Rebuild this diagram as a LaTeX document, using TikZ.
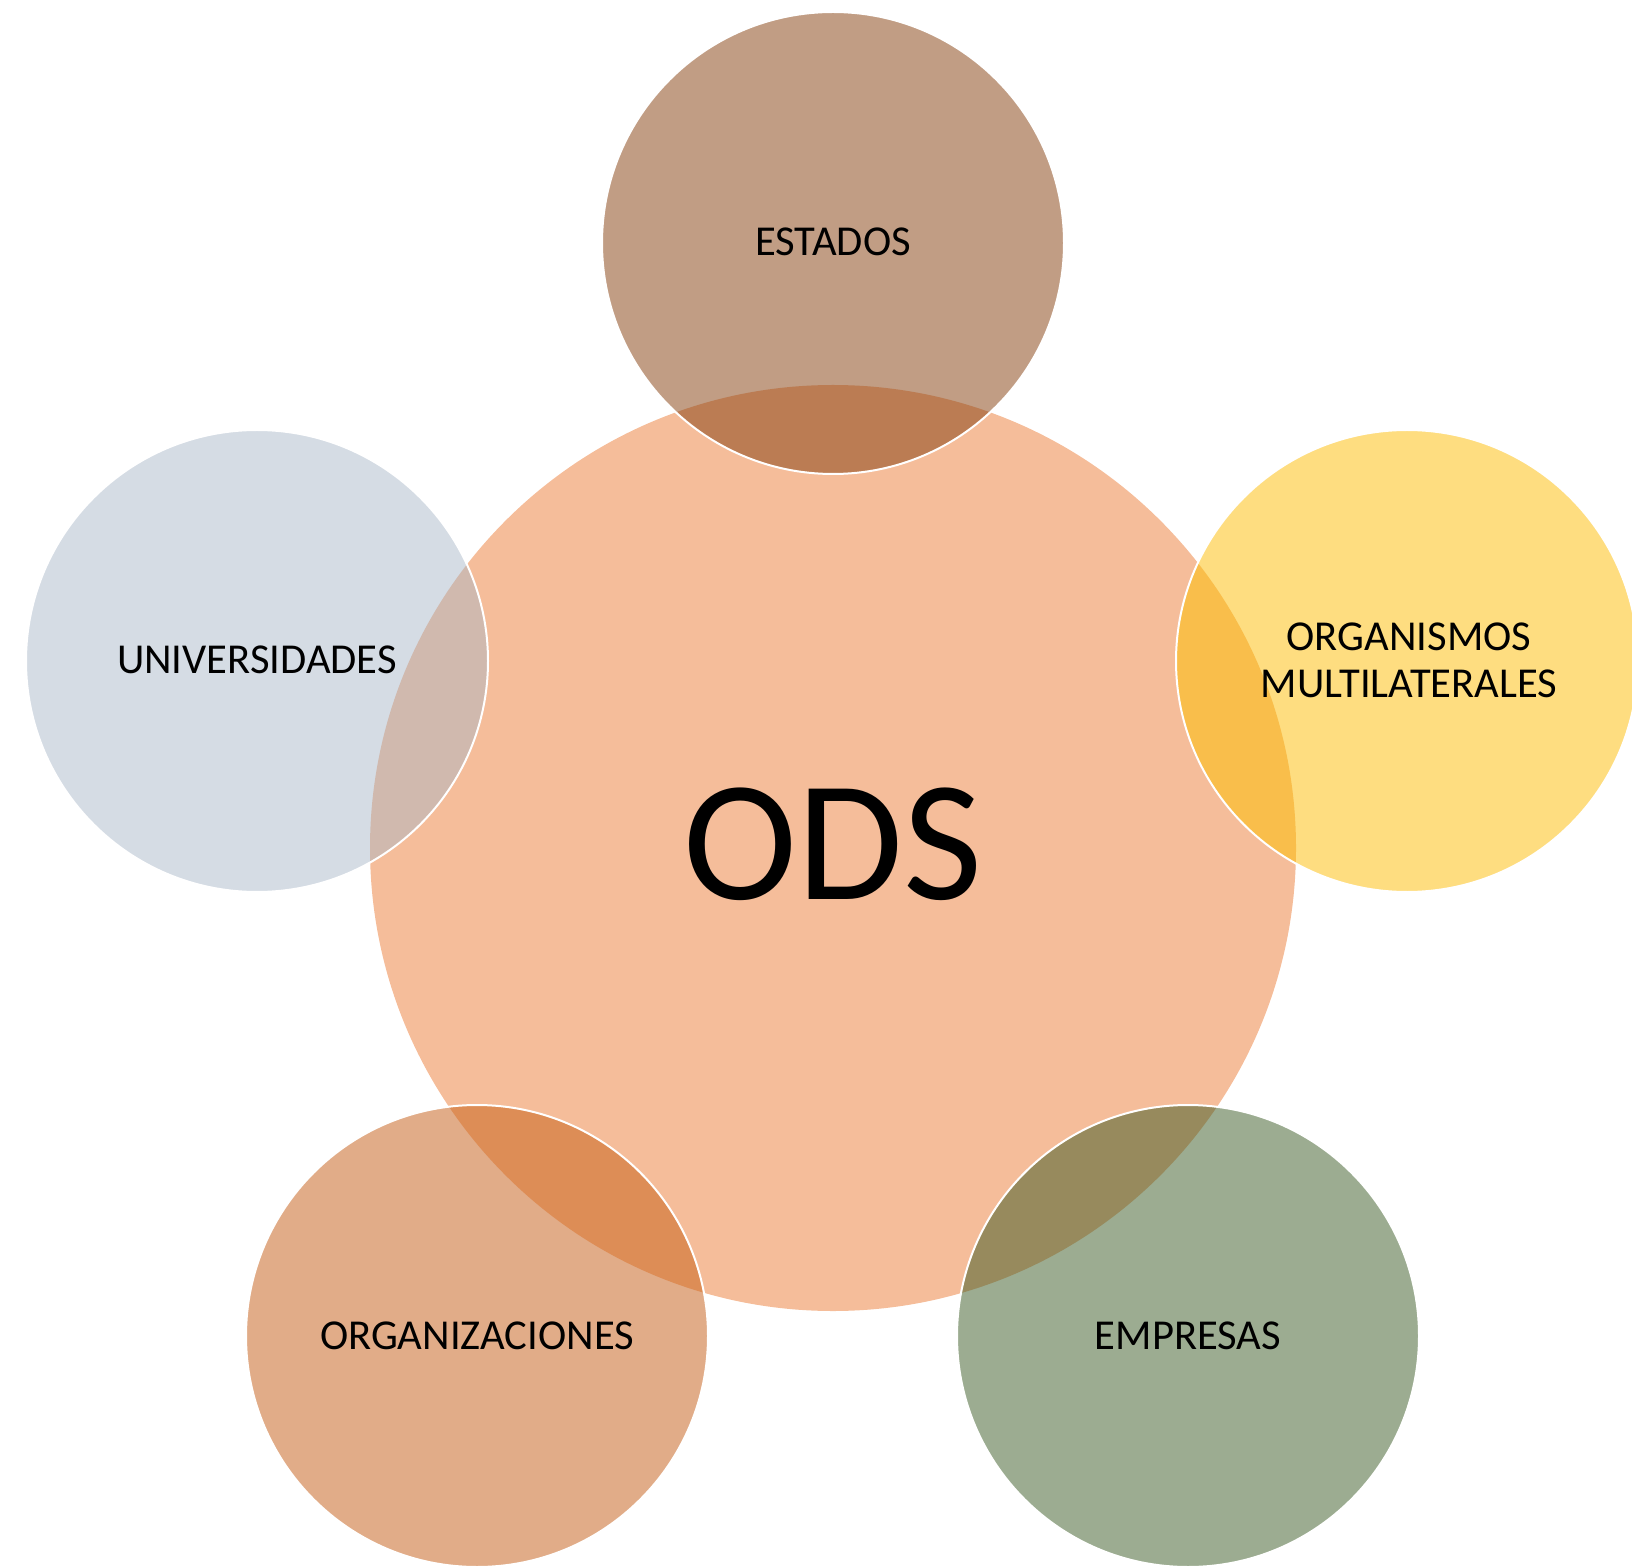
\documentclass[tikz,border=0pt]{standalone}
\usepackage{fontspec}
\setmainfont{Carlito}
\definecolor{cods}{HTML}{F5BD9A}
\definecolor{cest}{HTML}{C19D84}
\definecolor{oest}{HTML}{BB7C53}
\definecolor{cuni}{HTML}{D5DCE4}
\definecolor{ouni}{HTML}{D0B9AE}
\definecolor{corg}{HTML}{FEDD80}
\definecolor{oorg}{HTML}{F9BE4B}
\definecolor{czac}{HTML}{E1AC88}
\definecolor{ozac}{HTML}{DD8D56}
\definecolor{cemp}{HTML}{9CAC91}
\definecolor{oemp}{HTML}{978A5D}
\begin{document}
\begin{tikzpicture}[
  bigc/.style={circle, minimum size=463pt, inner sep=0pt, fill=cods},
  smallc/.style={circle, minimum size=231pt, inner sep=0pt, fill=#1},
  rim/.style={draw=white, line width=1pt},
  lbl/.style={font=\fontsize{21.3}{23.5}\selectfont, align=center, text=black, inner sep=0pt},
]
\useasboundingbox (0pt,0pt) rectangle (816pt,-783pt);
\clip (0pt,0pt) rectangle (816pt,-783pt);
\node[bigc] (ods) at (416.5pt,-424pt) {};
% small circles
\foreach \n/\x/\y/\c/\o in {est/416.5/-121.5/cest/oest, uni/128.5/-330.5/cuni/ouni, org/703.5/-330.5/corg/oorg, zac/238.5/-668/czac/ozac, emp/594/-668/cemp/oemp}{
  \node[smallc=\c] (\n) at (\x pt,\y pt) {};
  \begin{scope}
    \clip (ods.center) circle (231.5pt);
    \fill[\o] (\n.center) circle (115.5pt);
  \end{scope}
  \draw[rim] (\n.center) circle (115.5pt);
}
\node[font=\fontsize{86}{86}\selectfont, inner sep=0pt] (odst) at ([yshift=2pt]ods.center) {ODS};
\node[lbl] (estt) at ([yshift=0.5pt]est.center) {ESTADOS};
\node[lbl] (unit) at ([yshift=0.5pt]uni.center) {UNIVERSIDADES};
\node[lbl] (orgt) at ([xshift=1pt,yshift=0.5pt]org.center) {ORGANISMOS\\MULTILATERALES};
\node[lbl] (zact) at ([yshift=0pt]zac.center) {ORGANIZACIONES};
\node[lbl] (empt) at ([yshift=0pt]emp.center) {EMPRESAS};
\end{tikzpicture}
\end{document}
